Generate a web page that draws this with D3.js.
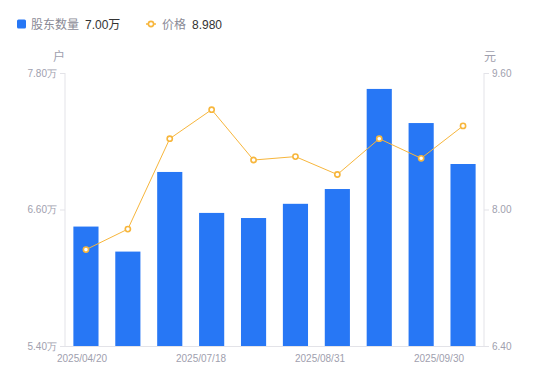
<!DOCTYPE html>
<html>
<head>
<meta charset="utf-8">
<script src="https://cdn.jsdelivr.net/npm/d3@7"></script>
<style>
  html, body { margin: 0; padding: 0; background: #fff; }
  svg { display: block; font-family: "Liberation Sans", "Noto Sans CJK SC", sans-serif; }
</style>
</head>
<body>
<div id="chart"></div>
<script>
// report dates (only a few are labelled on the axis)
const dates = ["2025/04/20", "2025/06/30", "2025/07/10", "2025/07/18", "2025/07/31",
               "2025/08/10", "2025/08/31", "2025/09/10", "2025/09/20", "2025/09/30"];
const holders = [6.45, 6.23, 6.93, 6.57, 6.525, 6.65, 6.78, 7.66, 7.36, 7.00]; // 万户
const prices = [7.53, 7.77, 8.83, 9.17, 8.58, 8.62, 8.41, 8.83, 8.60, 8.98];    // 元
const xTickLabels = ["2025/04/20", "2025/07/18", "2025/08/31", "2025/09/30"];
const leftTicks = [5.40, 6.60, 7.80];
const rightTicks = [6.40, 8.00, 9.60];

const W = 550, H = 381;
const M = { left: 65, right: 66, top: 73, bottom: 35 };
const BLUE = "#2777f5", ORANGE = "#f7b63c", TICK = "#a0a0ae", AXIS = "#e3e3e8";

const svg = d3.select("#chart").append("svg")
  .attr("width", W).attr("height", H);

const x = d3.scaleBand()
  .domain(dates)
  .range([M.left, W - M.right])
  .paddingInner(0.4)
  .paddingOuter(0.2);

const yL = d3.scaleLinear().domain([5.40, 7.80]).range([H - M.bottom, M.top]);
const yR = d3.scaleLinear().domain([6.40, 9.60]).range([H - M.bottom, M.top]);

// left axis
const gL = svg.append("g")
  .attr("transform", `translate(${M.left},0)`)
  .call(d3.axisLeft(yL).tickValues(leftTicks).tickSize(5).tickPadding(3)
    .tickFormat(d => d.toFixed(2) + "万"));
gL.select(".domain").attr("stroke", AXIS).attr("d", `M0,${M.top}V${H - M.bottom}`);
gL.selectAll(".tick line").attr("stroke", AXIS);
gL.selectAll(".tick text").attr("fill", TICK).style("font-size", "10px");

// right axis
const gR = svg.append("g")
  .attr("transform", `translate(${W - M.right},0)`)
  .call(d3.axisRight(yR).tickValues(rightTicks).tickSize(5).tickPadding(3)
    .tickFormat(d => d.toFixed(2)));
gR.select(".domain").attr("stroke", AXIS).attr("d", `M0,${M.top}V${H - M.bottom}`);
gR.selectAll(".tick line").attr("stroke", AXIS);
gR.selectAll(".tick text").attr("fill", TICK).style("font-size", "10px");

// bottom axis line + labels
svg.append("line")
  .attr("x1", M.left).attr("x2", W - M.right)
  .attr("y1", H - M.bottom + 0.5).attr("y2", H - M.bottom + 0.5)
  .attr("stroke", AXIS);

const xl = d3.scalePoint().domain(xTickLabels).range([82, 439]);
svg.append("g").selectAll("text")
  .data(xTickLabels)
  .join("text")
  .attr("x", d => xl(d))
  .attr("y", H - M.bottom + 16)
  .attr("text-anchor", "middle")
  .attr("fill", TICK)
  .style("font-size", "10px")
  .text(d => d);

// unit labels
svg.append("text").attr("x", M.left - 6).attr("y", 61).attr("text-anchor", "middle")
  .attr("fill", TICK).style("font-size", "12px").text("户");
svg.append("text").attr("x", W - M.right + 6).attr("y", 61).attr("text-anchor", "middle")
  .attr("fill", TICK).style("font-size", "12px").text("元");

// bars
svg.append("g").selectAll("rect")
  .data(dates)
  .join("rect")
  .attr("x", d => x(d))
  .attr("width", x.bandwidth())
  .attr("y", (d, i) => yL(holders[i]))
  .attr("height", (d, i) => yL.range()[0] - yL(holders[i]))
  .attr("fill", BLUE);

// price line
const cx = d => x(d) + x.bandwidth() / 2;
svg.append("path")
  .datum(dates)
  .attr("fill", "none")
  .attr("stroke", ORANGE)
  .attr("stroke-width", 1)
  .attr("d", d3.line().x(d => cx(d)).y((d, i) => yR(prices[i])));

svg.append("g").selectAll("circle")
  .data(dates)
  .join("circle")
  .attr("cx", d => cx(d))
  .attr("cy", (d, i) => yR(prices[i]))
  .attr("r", 2.6)
  .attr("fill", "#fff")
  .attr("stroke", ORANGE)
  .attr("stroke-width", 1.6);

// legend
const lg = svg.append("g").style("font-size", "12px");
lg.append("rect").attr("x", 17).attr("y", 19.5).attr("width", 9).attr("height", 9)
  .attr("rx", 1.5).attr("fill", BLUE);
lg.append("text").attr("x", 31).attr("y", 28.5).attr("fill", "#8a8a96").text("股东数量");
lg.append("text").attr("x", 85).attr("y", 28.5).attr("fill", "#333").text(holders[holders.length - 1].toFixed(2) + "万");

lg.append("line").attr("x1", 146).attr("x2", 156).attr("y1", 24).attr("y2", 24)
  .attr("stroke", ORANGE).attr("stroke-width", 1.5);
lg.append("circle").attr("cx", 151).attr("cy", 24).attr("r", 2.6)
  .attr("fill", "#fff").attr("stroke", ORANGE).attr("stroke-width", 1.6);
lg.append("text").attr("x", 162).attr("y", 28.5).attr("fill", "#8a8a96").text("价格");
lg.append("text").attr("x", 192).attr("y", 28.5).attr("fill", "#333").text(prices[prices.length - 1].toFixed(3));
</script>
</body>
</html>
